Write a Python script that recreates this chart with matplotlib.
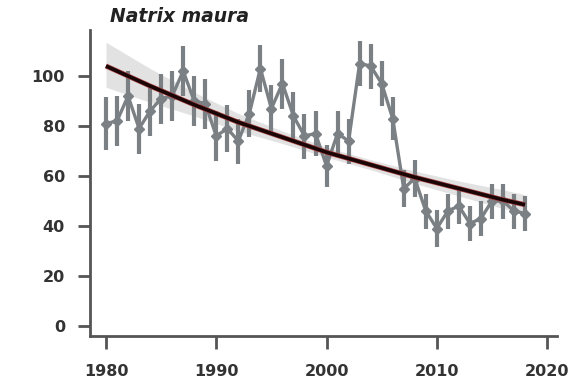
import matplotlib
matplotlib.use("Agg")
import matplotlib.pyplot as plt

# ---- data ----
years = list(range(1980, 2019))
values = [81, 82, 92, 79, 86, 91, 92, 102, 90, 89,
          76, 79, 74, 85, 103, 87, 97, 84, 76, 77,
          64, 77, 74, 105, 104, 97, 83, 55, 59, 46,
          39, 46, 48, 41, 43, 50, 50, 46, 45]
errors = [10.5, 10, 10, 10, 10, 10, 10, 10, 10, 10,
          10, 9.5, 9, 9.5, 9.5, 9.5, 10, 9.5, 9, 9,
          8.5, 9, 9, 9, 9, 9, 8.5, 7.5, 7.5, 7,
          7.5, 7, 7, 7, 7, 7, 7, 7, 7]

fit_years = [1980, 1984, 1988, 1992, 1996, 2000, 2004, 2008, 2012, 2016, 2018]
fit_trend = [104, 96, 88.5, 81.5, 75.5, 69.5, 64.5, 59.5, 55, 50.5, 48.5]
fit_upper = [113.5, 103, 93.5, 85, 78, 71.5, 66.5, 62, 58, 54.5, 52.5]
fit_lower = [95.5, 89.5, 84, 78, 73, 67.5, 62.5, 57, 52, 47, 45]

xticks = [1980, 1990, 2000, 2010, 2020]
yticks = [0, 20, 40, 60, 80, 100]
title = "Natrix maura"

# ---- figure ----
plt.rcParams['font.family'] = ['DejaVu Sans']
W, H = 587, 383
fig = plt.figure(figsize=(W / 100, H / 100), dpi=100)
ax = fig.add_axes([90 / W, (H - 336) / H, (557 - 90) / W, (336 - 30) / H])

gray = '#7a8084'
ax.fill_between(fit_years, fit_lower, fit_upper, color='#e2e2e2', lw=0, zorder=1)
ax.errorbar(years, values, yerr=errors, fmt='-D', color=gray, ecolor=gray,
            lw=2.4, elinewidth=3.0, capsize=0, ms=5, mfc=gray, mec=gray,
            zorder=2)
ax.plot(fit_years, fit_trend, color='#a84040', lw=3.6, zorder=3,
        solid_capstyle='butt')
ax.plot(fit_years, fit_trend, color='#1a0606', lw=2.6, zorder=4,
        solid_capstyle='butt')

ax.set_xlim(1978.55, 2020.9)
ax.set_ylim(-4, 118.4)
ax.set_xticks(xticks)
ax.set_yticks(yticks)
ax.set_xticklabels([str(t) for t in xticks])
ax.set_yticklabels([str(t) for t in yticks])

for s in ['top', 'right']:
    ax.spines[s].set_visible(False)
for s in ['left', 'bottom']:
    ax.spines[s].set_color('#555555')
    ax.spines[s].set_linewidth(2)
ax.tick_params(axis='both', length=9, width=2, color='#555555',
               labelsize=11.5, labelcolor='#333333')
ax.tick_params(axis='x', pad=11)
ax.tick_params(axis='y', pad=9)
for lab in ax.get_xticklabels() + ax.get_yticklabels():
    lab.set_fontweight('bold')

fig.text(110 / W, 1 - 16 / H, title, fontsize=13.5, fontweight='bold',
         fontstyle='italic', color='#222222', ha='left', va='center')

fig.savefig('out.png', dpi=100)
